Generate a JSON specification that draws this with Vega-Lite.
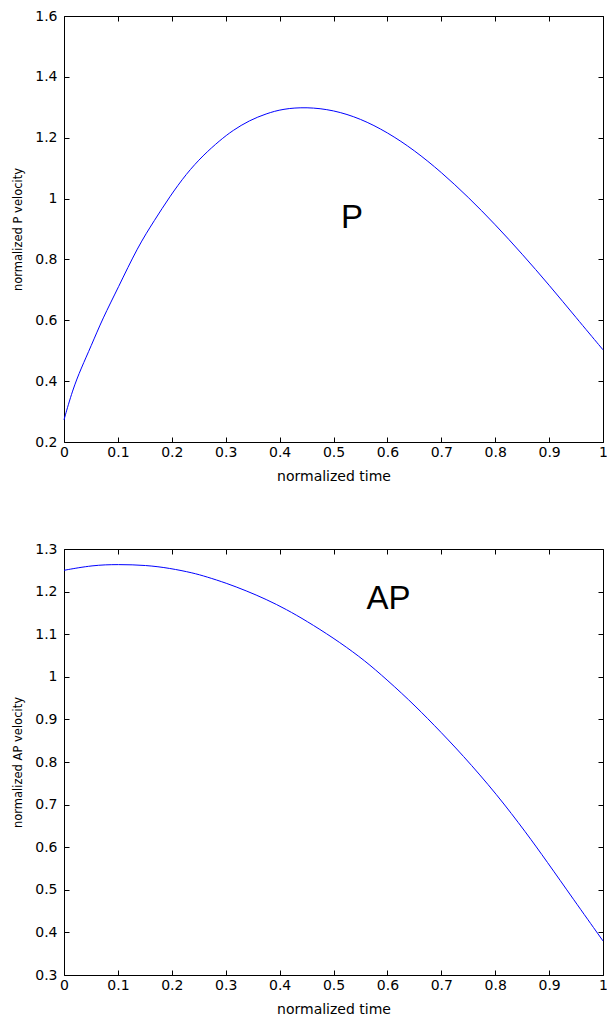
{
  "$schema": "https://vega.github.io/schema/vega-lite/v6.json",
  "background": "white",
  "padding": {"left": 12, "top": 8, "right": 0, "bottom": 0},
  "spacing": 57,
  "config": {
    "view": {"stroke": "black", "strokeWidth": 1},
    "axis": {
      "grid": false,
      "domain": false,
      "offset": -5,
      "tickColor": "black",
      "tickSize": 5,
      "tickWidth": 1,
      "labelColor": "black",
      "labelFont": "DejaVu Sans",
      "labelFontSize": 14,
      "titleColor": "black",
      "titleFont": "DejaVu Sans",
      "titleFontWeight": "normal",
      "titleFontSize": 14,
      "labelFlush": false,
      "labelOverlap": false,
      "labelBound": false
    }
  },
  "vconcat": [
    {
      "width": 539,
      "height": 426,
      "layer": [
        {
          "data": {"values": [
            {"t": 0, "v": 0.273}, {"t": 0.016, "v": 0.372}, {"t": 0.032, "v": 0.443}, {"t": 0.05, "v": 0.514},
            {"t": 0.072, "v": 0.607}, {"t": 0.1, "v": 0.705}, {"t": 0.137, "v": 0.842}, {"t": 0.168, "v": 0.929},
            {"t": 0.196, "v": 1.006}, {"t": 0.227, "v": 1.082}, {"t": 0.258, "v": 1.142}, {"t": 0.289, "v": 1.191},
            {"t": 0.313, "v": 1.224}, {"t": 0.344, "v": 1.257}, {"t": 0.375, "v": 1.279}, {"t": 0.406, "v": 1.295},
            {"t": 0.45, "v": 1.301}, {"t": 0.5, "v": 1.291}, {"t": 0.55, "v": 1.263}, {"t": 0.6, "v": 1.218},
            {"t": 0.65, "v": 1.159}, {"t": 0.7, "v": 1.087}, {"t": 0.75, "v": 1.005}, {"t": 0.8, "v": 0.915},
            {"t": 0.85, "v": 0.818}, {"t": 0.9, "v": 0.716}, {"t": 0.95, "v": 0.609}, {"t": 1.0, "v": 0.503}
          ]},
          "mark": {"type": "line", "color": "#0000ff", "strokeWidth": 1, "interpolate": "basis"},
          "encoding": {
            "x": {"field": "t", "type": "quantitative",
              "scale": {"domain": [0, 1], "nice": false, "zero": false},
              "axis": {"orient": "bottom", "values": [0, 0.1, 0.2, 0.3, 0.4, 0.5, 0.6, 0.7, 0.8, 0.9, 1], "format": "~g", "labelPadding": 3, "title": "normalized time", "titlePadding": 10}},
            "y": {"field": "v", "type": "quantitative",
              "scale": {"domain": [0.2, 1.6], "nice": false, "zero": false},
              "axis": {"orient": "left", "values": [0.2, 0.4, 0.6, 0.8, 1, 1.2, 1.4, 1.6], "format": "~g", "labelPadding": 7, "title": "normalized P velocity", "titleFontSize": 11.5, "titlePadding": 11}}
          }
        },
        {
          "data": {"values": [{"t": 0.514, "v": 0.904, "label": "P"}]},
          "mark": {"type": "text", "align": "left", "baseline": "alphabetic", "font": "Liberation Sans", "fontSize": 33, "color": "black"},
          "encoding": {
            "x": {"field": "t", "type": "quantitative",
              "scale": {"domain": [0, 1], "nice": false, "zero": false},
              "axis": {"orient": "top", "values": [0, 0.1, 0.2, 0.3, 0.4, 0.5, 0.6, 0.7, 0.8, 0.9, 1], "labels": false, "title": null}},
            "y": {"field": "v", "type": "quantitative",
              "scale": {"domain": [0.2, 1.6], "nice": false, "zero": false},
              "axis": {"orient": "right", "values": [0.2, 0.4, 0.6, 0.8, 1, 1.2, 1.4, 1.6], "labels": false, "title": null}},
            "text": {"field": "label"}
          }
        }
      ],
      "resolve": {"axis": {"x": "independent", "y": "independent"}}
    },
    {
      "width": 539,
      "height": 426,
      "layer": [
        {
          "data": {"values": [
            {"t": 0, "v": 1.25}, {"t": 0.053, "v": 1.262}, {"t": 0.1, "v": 1.264}, {"t": 0.153, "v": 1.262},
            {"t": 0.196, "v": 1.255}, {"t": 0.239, "v": 1.244}, {"t": 0.264, "v": 1.235}, {"t": 0.301, "v": 1.22},
            {"t": 0.338, "v": 1.202}, {"t": 0.375, "v": 1.182}, {"t": 0.413, "v": 1.158}, {"t": 0.45, "v": 1.131},
            {"t": 0.499, "v": 1.092}, {"t": 0.549, "v": 1.047}, {"t": 0.586, "v": 1.008}, {"t": 0.641, "v": 0.945},
            {"t": 0.685, "v": 0.889}, {"t": 0.74, "v": 0.816}, {"t": 0.803, "v": 0.724}, {"t": 0.858, "v": 0.633},
            {"t": 0.895, "v": 0.568}, {"t": 0.945, "v": 0.478}, {"t": 1.0, "v": 0.38}
          ]},
          "mark": {"type": "line", "color": "#0000ff", "strokeWidth": 1, "interpolate": "basis"},
          "encoding": {
            "x": {"field": "t", "type": "quantitative",
              "scale": {"domain": [0, 1], "nice": false, "zero": false},
              "axis": {"orient": "bottom", "values": [0, 0.1, 0.2, 0.3, 0.4, 0.5, 0.6, 0.7, 0.8, 0.9, 1], "format": "~g", "labelPadding": 3, "title": "normalized time", "titlePadding": 10}},
            "y": {"field": "v", "type": "quantitative",
              "scale": {"domain": [0.3, 1.3], "nice": false, "zero": false},
              "axis": {"orient": "left", "values": [0.3, 0.4, 0.5, 0.6, 0.7, 0.8, 0.9, 1, 1.1, 1.2, 1.3], "format": "~g", "labelPadding": 7, "title": "normalized AP velocity", "titleFontSize": 11.5, "titlePadding": 11}}
          }
        },
        {
          "data": {"values": [{"t": 0.561, "v": 1.158, "label": "AP"}]},
          "mark": {"type": "text", "align": "left", "baseline": "alphabetic", "font": "Liberation Sans", "fontSize": 33, "color": "black"},
          "encoding": {
            "x": {"field": "t", "type": "quantitative",
              "scale": {"domain": [0, 1], "nice": false, "zero": false},
              "axis": {"orient": "top", "values": [0, 0.1, 0.2, 0.3, 0.4, 0.5, 0.6, 0.7, 0.8, 0.9, 1], "labels": false, "title": null}},
            "y": {"field": "v", "type": "quantitative",
              "scale": {"domain": [0.3, 1.3], "nice": false, "zero": false},
              "axis": {"orient": "right", "values": [0.3, 0.4, 0.5, 0.6, 0.7, 0.8, 0.9, 1, 1.1, 1.2, 1.3], "labels": false, "title": null}},
            "text": {"field": "label"}
          }
        }
      ],
      "resolve": {"axis": {"x": "independent", "y": "independent"}}
    }
  ]
}
